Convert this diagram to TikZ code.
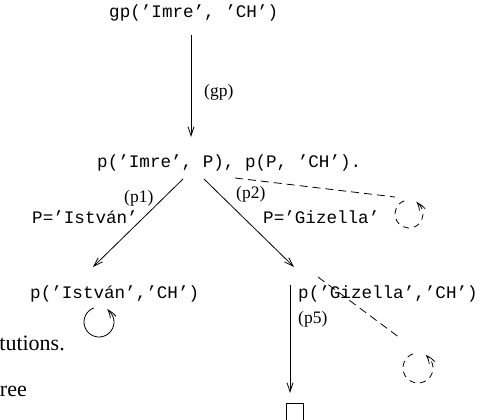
\documentclass[tikz,border=0pt]{standalone}
\usepackage{fontspec}
\setmainfont{Liberation Serif}
\newfontfamily\codefont{Liberation Mono}
\usetikzlibrary{arrows.meta,bending}
\tikzset{
  code/.style={font=\codefont\fontsize{17.6}{20}\selectfont, inner sep=0pt, anchor=base west},
  lbl/.style={font=\fontsize{17.5}{20}\selectfont, inner sep=0pt, anchor=base west},
  bodytext/.style={font=\fontsize{22}{26}\selectfont, inner sep=0pt, anchor=base east},
  tip/.style={-{Straight Barb[length=9pt,width=6pt,bend]}},
  edge/.style={line width=0.8pt, tip},
  dashedge/.style={line width=0.8pt, dash pattern=on 8pt off 5pt},
  loopedge/.style={line width=0.8pt, tip},
  dashloop/.style={line width=0.8pt, dash pattern=on 6pt off 5pt, tip},
  leaf/.style={draw, line width=0.8pt, inner sep=0pt, minimum width=17pt, minimum height=22pt, anchor=north west},
}
\begin{document}
\begin{tikzpicture}[x=1pt,y=-1pt]
\useasboundingbox (0,0) rectangle (495,420);

% goals of the resolution tree
\node[code] (goal) at (109,18) {gp(’Imre’, ’CH’)};
\node[code] (conj) at (97,167) {p(’Imre’, P), p(P, ’CH’).};
\node[code] (g1) at (30,298) {p(’István’,’CH’)};
\node[code] (g2) at (298,298) {p(’Gizella’,’CH’)};
\node[leaf] (empty) at (286,403) {};

% clause labels and substitutions
\node[lbl] (lgp) at (204,96) {(gp)};
\node[lbl] (lp1) at (124,202) {(p1)};
\node[lbl] (lp2) at (236,198) {(p2)};
\node[lbl] (lp5) at (298,323) {(p5)};
\node[code] (s1) at (32,223) {P=’István’};
\node[code] (s2) at (263,223) {P=’Gizella’};

% running text at the left edge
\node[bodytext] (t1) at (65,350) {tutions.};
\node[bodytext] (t2) at (27,396) {ree};

% connector ends
\coordinate (goalOut) at (191,35);
\coordinate (conjIn) at (191,137);
\coordinate (conjL) at (183,179);
\coordinate (conjR) at (204,179);
\coordinate (g1In) at (93,267);
\coordinate (g2In) at (294,267);
\coordinate (g2Out) at (290,285);
\coordinate (emptyIn) at (290,393);
\coordinate (conjD) at (235,178);
\coordinate (loopA) at (395,197);
\coordinate (g2D) at (318,277);
\coordinate (loopB) at (400,338);

% resolution steps
\draw[edge] (goalOut) -- (conjIn);
\draw[edge] (conjL) -- (g1In);
\draw[edge] (conjR) -- (g2In);
\draw[edge] (g2Out) -- (emptyIn);

% branches leading to infinite loops
\draw[dashedge] (conjD) -- (loopA);
\draw[dashedge] (g2D) -- (loopB);

% loop marks
\coordinate (c1) at (99,322);
\coordinate (c2) at (409,214);
\coordinate (c3) at (418,368);
\draw[loopedge] ([shift={(-110:15)}]c1) arc[start angle=-110, end angle=-418, radius=15];
\draw[dashloop] ([shift={(-110:14)}]c2) arc[start angle=-110, end angle=-420, radius=14];
\draw[dashloop] ([shift={(-110:15)}]c3) arc[start angle=-110, end angle=-420, radius=15];
\end{tikzpicture}
\end{document}
